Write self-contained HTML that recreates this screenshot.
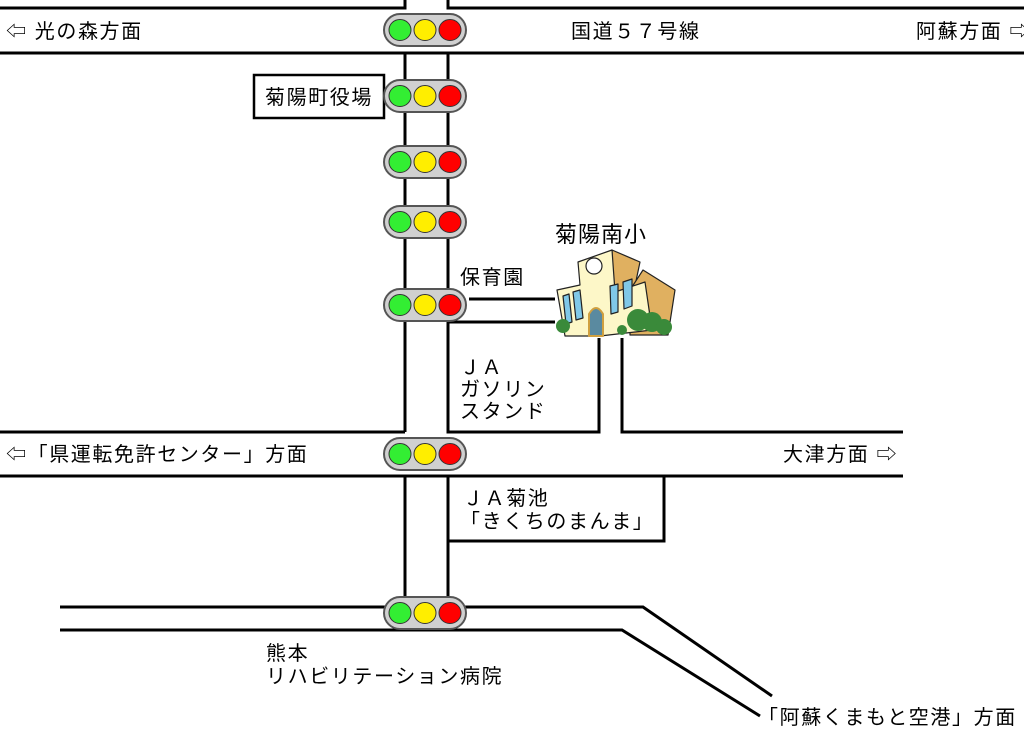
<!DOCTYPE html>
<html><head><meta charset="utf-8"><style>
html,body{margin:0;padding:0;background:#fff;}
svg{display:block;}
text{font-family:"Liberation Sans","Noto Sans CJK JP",sans-serif;font-size:20px;letter-spacing:1.6px;fill:#000;}
</style></head><body>
<svg width="1024" height="733" viewBox="0 0 1024 733" xmlns="http://www.w3.org/2000/svg">
<defs>
<g id="tl">
<rect x="-41" y="-16" width="82" height="32" rx="16" fill="#d0d0d0" stroke="#555" stroke-width="2"/>
<ellipse cx="-25" cy="0" rx="11" ry="10.5" fill="#33ee33" stroke="#333" stroke-width="1"/>
<ellipse cx="0" cy="0" rx="11" ry="10.5" fill="#ffee00" stroke="#333" stroke-width="1"/>
<ellipse cx="25" cy="0" rx="11" ry="10.5" fill="#ff0000" stroke="#333" stroke-width="1"/>
</g>
</defs>
<g stroke="#000" stroke-width="3" fill="none">
<polyline points="0,8 405,8 405,0"/>
<polyline points="448,0 448,8 1024,8"/>
<line x1="0" y1="53" x2="1024" y2="53"/>
<line x1="405" y1="53" x2="405" y2="432"/>
<line x1="448" y1="53" x2="448" y2="322"/>
<polyline points="0,432 405,432"/>
<polyline points="469,299 555,299"/>
<polyline points="555,322 448,322 448,432 599,432 599,338"/>
<polyline points="622,338 622,432 903,432"/>
<line x1="0" y1="476" x2="903" y2="476"/>
<line x1="405" y1="476" x2="405" y2="607"/>
<line x1="448" y1="476" x2="448" y2="607"/>
<polyline points="448,541 664,541 664,476"/>
<polyline points="60,607 643,607 772,696"/>
<polyline points="60,630 622,630 760,716"/>
<rect x="254" y="75" width="130" height="43" stroke-width="2.5"/>
</g>
<use href="#tl" x="425" y="30"/>
<use href="#tl" x="425" y="96"/>
<use href="#tl" x="425" y="162"/>
<use href="#tl" x="425" y="222"/>
<use href="#tl" x="425" y="305"/>
<use href="#tl" x="425" y="454"/>
<use href="#tl" x="425" y="613"/>
<g stroke="#222" stroke-width="1.2" stroke-linejoin="round">
<polygon points="612,250 640,262 632,300 612,300" fill="#e0b060"/>
<polygon points="643,270 675,290 668,335 630,335 630,290" fill="#e0b060"/>
<polygon points="578,262 612,250 615,292 645,282 652,330 600,336 565,336 557,290 580,285" fill="#fdf7c8"/>
<circle cx="594" cy="266" r="8" fill="#fff"/>
<polygon points="563,296 569,294 572,322 566,324" fill="#80c8e8"/>
<polygon points="573,292 580,290 583,318 576,320" fill="#80c8e8"/>
<polygon points="610,286 618,284 618,312 611,314" fill="#80c8e8"/>
<polygon points="623,282 632,279 632,306 624,309" fill="#80c8e8"/>
<path d="M589,336 L589,314 Q596,302 603,314 L603,336 Z" fill="#5a8aa0" stroke="#d0a040" stroke-width="2"/>
</g>
<g fill="#3a8a3a"><circle cx="638" cy="320" r="11"/><circle cx="652" cy="322" r="10"/><circle cx="664" cy="327" r="8"/><circle cx="563" cy="326" r="7"/><circle cx="622" cy="330" r="5"/></g>
<text x="6" y="38">⇦ 光の森方面</text>
<text x="571" y="38">国道５７号線</text>
<text x="916" y="38">阿蘇方面 ⇨</text>
<text x="265" y="104">菊陽町役場</text>
<text x="555" y="242" style="font-size:22px;letter-spacing:1px">菊陽南小</text>
<text x="460" y="284">保育園</text>
<text x="460" y="374">ＪＡ</text>
<text x="460" y="396">ガソリン</text>
<text x="460" y="418">スタンド</text>
<text x="6" y="461">⇦「県運転免許センター」方面</text>
<text x="783" y="461">大津方面 ⇨</text>
<text x="463" y="505">ＪＡ菊池</text>
<text x="460" y="528">「きくちのまんま」</text>
<text x="266" y="660">熊本</text>
<text x="266" y="683">リハビリテーション病院</text>
<text x="758" y="724">「阿蘇くまもと空港」方面</text>
</svg>
</body></html>
